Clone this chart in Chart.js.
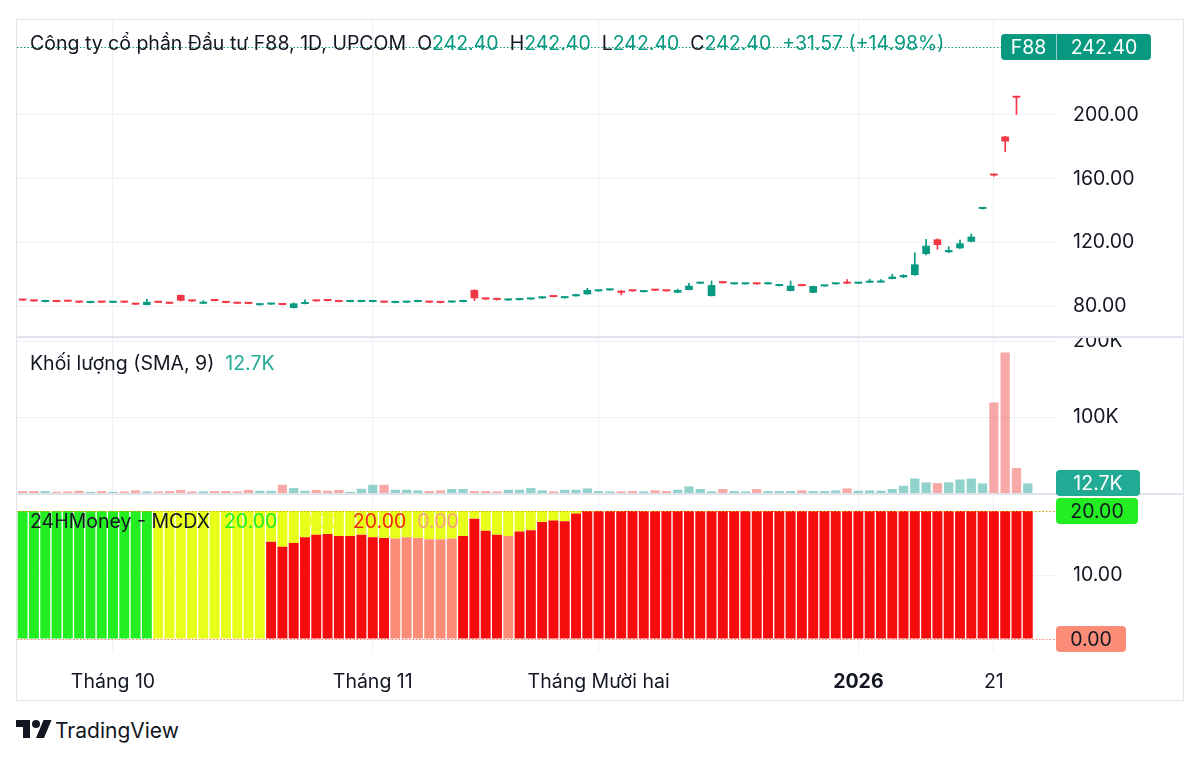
<!DOCTYPE html>
<html lang="vi">
<head>
<meta charset="utf-8">
<title>F88 - 1D - UPCOM</title>
<script src="https://cdn.jsdelivr.net/npm/chart.js@4.4.1/dist/chart.umd.min.js"></script>
<style>
html,body{margin:0;padding:0;background:#fff}
body{width:1200px;height:758px;position:relative;overflow:hidden;font-family:Inter,"Noto Sans",sans-serif;color:#131722}
#frame{position:absolute;left:16px;top:19px;width:1168px;height:682px;box-sizing:border-box;border:1px solid #e0e3eb}
canvas{position:absolute;left:17px}
.sep{position:absolute;left:17px;width:1166px;background:#e0e3eb}
.legend{position:absolute;left:30px;font-size:19.5px;line-height:24px;white-space:nowrap}
.legend span{margin-left:11px}
.legend span.tight{margin-left:0}
.badge{position:absolute;height:26px;line-height:26px;font-size:19.5px;border-radius:4px;box-sizing:border-box;white-space:nowrap;text-align:center}
#footer{position:absolute;left:16px;top:716px;display:flex;align-items:center}
#footer span{font-size:21px;margin-left:3px;color:#131722}
</style>
</head>
<body>
<div id="frame"></div>
<canvas id="cPrice" width="1166" height="316" style="top:20px"></canvas>
<div class="sep" style="top:336px;height:2px"></div>
<canvas id="cVol" width="1166" height="155" style="top:338px"></canvas>
<div class="sep" style="top:493px;height:2px"></div>
<canvas id="cMcdx" width="1166" height="204" style="top:495px"></canvas>

<div class="legend" id="lgPrice" style="top:31px"></div>
<div class="legend" id="lgVol" style="top:351px"></div>
<div class="legend" id="lgMcdx" style="top:509px"></div>

<div class="badge" id="bPrice" style="left:1001px;width:150px;background:#089981;color:#fff;display:flex">
  <span style="width:55px;border-right:1px solid rgba(255,255,255,.55)" id="bSym"></span><span style="flex:1" id="bLast"></span>
</div>
<div class="badge" id="bVol" style="left:1056px;width:84px;background:#22ab94;color:#fff"></div>
<div class="badge" id="bTop" style="left:1056px;width:82px;background:#22ee22;color:#131722"></div>
<div class="badge" id="bBot" style="left:1056px;width:70px;background:#fa8c78;color:#131722"></div>

<div id="footer">
  <svg width="36" height="28" viewBox="0 0 36 28"><path fill="#131722" d="M14 22H7V11H0V4h14v18zM28 22h-8l7.5-18h8L28 22z"/><circle fill="#131722" cx="20" cy="8" r="4"/></svg>
  <span>TradingView</span>
</div>

<script>
// ---------- DATA ----------
const symbol = 'F88';
const titleText = 'Công ty cổ phần Đầu tư F88, 1D, UPCOM';
const changeText = '+31.57 (+14.98%)';

const categories = [
 '2025-09-19','2025-09-22','2025-09-23','2025-09-24','2025-09-25','2025-09-26','2025-09-29','2025-09-30',
 '2025-10-01','2025-10-02','2025-10-03','2025-10-06','2025-10-07','2025-10-08','2025-10-09','2025-10-10',
 '2025-10-13','2025-10-14','2025-10-15','2025-10-16','2025-10-17','2025-10-20','2025-10-21','2025-10-22',
 '2025-10-23','2025-10-24','2025-10-27','2025-10-28','2025-10-29','2025-10-30','2025-10-31',
 '2025-11-03','2025-11-04','2025-11-05','2025-11-06','2025-11-07','2025-11-10','2025-11-11','2025-11-12',
 '2025-11-13','2025-11-14','2025-11-17','2025-11-18','2025-11-19','2025-11-20','2025-11-21','2025-11-24',
 '2025-11-25','2025-11-26','2025-11-27','2025-11-28',
 '2025-12-01','2025-12-02','2025-12-03','2025-12-04','2025-12-05','2025-12-08','2025-12-09','2025-12-10',
 '2025-12-11','2025-12-12','2025-12-15','2025-12-16','2025-12-17','2025-12-18','2025-12-19','2025-12-22',
 '2025-12-23','2025-12-24','2025-12-25','2025-12-26','2025-12-29','2025-12-30','2025-12-31',
 '2026-01-05','2026-01-06','2026-01-07','2026-01-08','2026-01-09','2026-01-12','2026-01-13','2026-01-14',
 '2026-01-15','2026-01-16','2026-01-19','2026-01-20','2026-01-21','2026-01-22','2026-01-23','2026-01-26'
];
const xTickDates = ['2025-10-01','2025-11-03','2025-12-01','2026-01-05','2026-01-21'];
const xTickTexts = ['Tháng 10','Tháng 11','Tháng Mười hai','2026','21'];
const xTickBold  = ['2026'];

const open = [
 84.0,83.5,82.6,83.0,83.2,82.7,82.0,82.6,82.1,82.6,
 81.3,80.7,82.6,81.9,87.0,83.5,81.5,84.0,82.4,81.9,
 82.3,80.6,81.0,81.1,78.8,81.3,83.5,84.0,83.0,82.6,
 82.6,82.6,82.6,82.0,82.2,82.6,82.6,82.4,82.3,82.6,
 90.1,84.6,84.3,83.6,83.8,84.2,84.9,86.1,85.0,86.2,
 87.4,89.3,89.9,89.7,89.7,88.8,90.1,89.7,88.4,90.1,
 94.1,86.3,95.3,93.7,93.7,94.1,93.7,92.6,89.5,93.0,
 88.4,92.4,93.7,94.5,94.1,94.7,94.8,97.0,98.1,99.5,
 112.7,121.9,113.8,116.3,120.4,141.0,162.6,186.5,211.2,242.4];
const high = [
 84.0,83.5,83.1,83.0,83.2,82.7,82.5,82.6,82.6,82.6,
 81.3,84.2,82.6,81.9,87.0,83.5,83.4,84.0,82.4,81.9,
 82.3,81.0,81.5,81.1,82.0,84.0,83.5,84.0,83.0,83.0,
 83.0,83.0,82.6,82.4,82.6,83.0,82.6,82.4,82.7,83.0,
 90.3,84.7,84.4,84.1,84.2,84.6,85.9,86.1,85.4,87.6,
 91.2,89.7,90.3,89.8,89.7,89.2,90.1,89.7,90.7,94.3,
 94.5,95.8,95.5,94.1,94.1,94.1,95.0,93.0,95.8,93.0,
 92.6,92.8,94.1,96.6,94.5,96.8,96.6,100.0,99.8,113.5,
 121.9,122.2,117.3,121.5,125.3,142.0,162.6,186.6,211.3,242.4];
const low = [
 83.5,83.0,82.6,82.6,82.8,82.2,82.0,82.2,82.1,82.2,
 80.9,80.7,82.1,81.5,83.2,83.0,81.5,83.2,82.0,81.5,
 81.4,80.6,81.0,80.7,78.8,81.3,83.0,83.2,82.6,82.6,
 82.6,82.6,82.2,82.0,82.2,82.6,82.2,82.0,82.3,82.6,
 83.4,84.1,83.8,83.5,83.8,84.2,84.9,85.7,85.0,86.2,
 87.4,89.3,89.9,87.0,89.3,88.8,89.7,89.3,88.4,90.1,
 94.1,86.3,94.4,93.7,93.7,93.7,93.7,92.6,89.5,92.6,
 88.4,92.4,93.7,94.1,94.1,94.7,94.8,97.0,97.8,99.3,
 112.1,115.7,113.6,116.1,120.3,140.9,161.6,177.0,200.4,242.4];
const close = [
 83.5,83.0,83.1,82.6,82.8,82.2,82.5,82.2,82.6,82.2,
 80.9,82.7,82.1,81.5,83.4,83.0,82.0,83.2,82.0,81.5,
 81.4,81.0,81.5,80.7,81.7,82.5,83.0,83.2,82.6,83.0,
 83.0,83.0,82.2,82.4,82.6,83.0,82.2,82.0,82.7,83.0,
 84.9,84.2,83.9,84.0,84.2,84.6,85.4,85.7,85.4,86.7,
 90.1,89.7,90.3,88.4,89.3,89.2,89.7,89.3,90.1,92.8,
 94.5,93.2,94.4,94.1,94.1,93.7,94.1,93.0,92.8,92.6,
 92.6,92.8,94.1,94.1,94.5,95.1,95.2,98.5,99.5,106.2,
 117.9,118.4,115.2,119.4,123.6,141.8,162.0,183.4,210.83,242.4];
const priceTicks = [80,120,160,200];

// volume, thousands of shares
const volumeK = [
 2.5,2.5,2.5,1.5,2,3,1.5,2.5,1.5,2,
 3.5,2,2,2.5,4,2,2,2.5,2.5,2,
 4,3,3,10.8,6.5,3,4,3,4,1.5,
 5.6,10.8,10.8,4.3,4.3,3.5,2.6,3.5,5.2,5.2,
 2.5,2.5,2,4.3,4.3,6.5,3.5,2,4.3,4.3,
 6,2.5,2,2,2.5,2,3.5,2.6,4.3,8.7,
 5.2,2.2,5.2,2.5,2,5.2,2.5,2.5,2.5,3.5,
 2.5,2.5,3.5,6,3,3.5,3,5.2,9.5,19,
 14,13,14,17.8,19,12.6,119,185,33,12.7];
const volumeTicks = [100,200];

// MCDX (24HMoney) stacked components
const mcdxBanker = [
 0,0,0,0,0,0,0,0,0,0,
 0,0,0,0,0,0,0,0,0,0,
 0,0,15.2,14.4,15.0,15.9,16.3,16.4,16.1,16.1,
 16.3,15.9,15.8,0,0,0,0,0,0,16.1,
 18.8,16.9,16.3,0,16.8,17.0,18.3,18.5,18.4,19.6,
 20,20,20,20,20,20,20,20,20,20,
 20,20,20,20,20,20,20,20,20,20,
 20,20,20,20,20,20,20,20,20,20,
 20,20,20,20,20,20,20,20,20,20];
const mcdxBankerWeak = [
 0,0,0,0,0,0,0,0,0,0,
 0,0,0,0,0,0,0,0,0,0,
 0,0,0,0,0,0,0,0,0,0,
 0,0,0,15.7,15.9,15.8,15.6,15.6,15.7,0,
 0,0,0,16.1,0,0,0,0,0,0,
 0,0,0,0,0,0,0,0,0,0,
 0,0,0,0,0,0,0,0,0,0,
 0,0,0,0,0,0,0,0,0,0,
 0,0,0,0,0,0,0,0,0,0];
const mcdxHotMoney = [
 0,0,0,0,0,0,0,0,0,0,
 0,0,20,20,20,20,20,20,20,20,
 20,20,4.8,5.6,5.0,4.1,3.7,3.6,3.9,3.9,
 3.7,4.1,4.2,4.3,4.1,4.2,4.4,4.4,4.3,3.9,
 1.2,3.1,3.7,3.9,3.2,3.0,1.7,1.5,1.6,0.4,
 0,0,0,0,0,0,0,0,0,0,
 0,0,0,0,0,0,0,0,0,0,
 0,0,0,0,0,0,0,0,0,0,
 0,0,0,0,0,0,0,0,0,0];
const mcdxRetail = [
 20,20,20,20,20,20,20,20,20,20,
 20,20,0,0,0,0,0,0,0,0,
 0,0,0,0,0,0,0,0,0,0,
 0,0,0,0,0,0,0,0,0,0,
 0,0,0,0,0,0,0,0,0,0,
 0,0,0,0,0,0,0,0,0,0,
 0,0,0,0,0,0,0,0,0,0,
 0,0,0,0,0,0,0,0,0,0,
 0,0,0,0,0,0,0,0,0,0];
const mcdxTicks = [0,10,20];
const mcdxLegendValues = ['20.00','20.00','20.00','0.00'];
const mcdxTop = 20, mcdxBottom = 0;

// ---------- STYLE ----------
const UP = '#089981', DOWN = '#f23645';
const VOL_UP = 'rgba(38,166,154,0.5)', VOL_DOWN = 'rgba(239,83,80,0.5)';
const C_RETAIL = '#22ee22', C_HOT = '#e8ff1a', C_BANK = '#f50c0c', C_WEAK = '#fa8c78';
const GRID = '#eef1f6', TEXT = '#131722', FONT = 'Inter', FS = 19.5;
const AXIS_W = 127;

Chart.defaults.font.family = FONT;
Chart.defaults.font.size = FS;
Chart.defaults.color = TEXT;

const labels = categories.concat(['', '']);   // right margin slots
const tickIdx = xTickDates.map(d => categories.indexOf(d));
const tickTextAt = {};
tickIdx.forEach((i, k) => { tickTextAt[i] = xTickTexts[k]; });
const isUp = close.map((c, i) => c >= open[i]);

function xScale(showLabels) {
  return {
    type: 'category',
    offset: true,
    stacked: true,
    grid: { color: GRID, offset: false, drawTicks: false },
    border: { display: false },
    afterBuildTicks: s => { s.ticks = tickIdx.map(i => ({ value: i })); },
    afterFit: s => { s.height = showLabels ? 47 : 0; },
    ticks: {
      display: showLabels, autoSkip: false, maxRotation: 0, padding: 18, color: TEXT,
      callback: v => tickTextAt[v] ?? '',
      font: c => ({ family: FONT, size: FS,
        weight: (c.tick && xTickBold.includes(tickTextAt[c.tick.value])) ? '700' : '400' })
    }
  };
}
function yScale(min, max, ticks, fmt, stacked) {
  return {
    position: 'right', min, max, stacked: !!stacked,
    grid: { color: GRID, drawTicks: false },
    border: { display: false },
    afterBuildTicks: s => { s.ticks = ticks.map(v => ({ value: v })); },
    afterFit: s => { s.width = AXIS_W; s.paddingTop = 0; s.paddingBottom = 0; },
    ticks: { padding: 17, color: TEXT, callback: fmt }
  };
}
const base = {
  responsive: false, animation: false, events: [],
  layout: { padding: 0 },
  plugins: { legend: { display: false }, tooltip: { enabled: false } }
};
function dotted(id, items) {
  return { id, afterDatasetsDraw(chart) {
    const { ctx, chartArea: a, scales: { y } } = chart;
    items.forEach(it => {
      const py = Math.round(y.getPixelForValue(it.value)) + 0.5;
      ctx.save(); ctx.strokeStyle = it.color; ctx.lineWidth = 1.2; ctx.setLineDash([1.5, 2]);
      ctx.beginPath(); ctx.moveTo(a.left, py); ctx.lineTo(a.right, py); ctx.stroke(); ctx.restore();
    });
  }};
}

// ---------- PRICE ----------
const last = close.length - 1;
const priceChart = new Chart(document.getElementById('cPrice'), {
  type: 'bar',
  data: { labels, datasets: [
    { data: low.map((l, i) => [l, high[i]]), backgroundColor: isUp.map(u => u ? UP : DOWN),
      barThickness: 1, grouped: false, order: 2 },
    { data: open.map((o, i) => [Math.min(o, close[i]), Math.max(o, close[i])]),
      backgroundColor: isUp.map(u => u ? UP : DOWN), minBarLength: 2,
      barPercentage: 0.68, categoryPercentage: 1, grouped: false, order: 1 }
  ]},
  options: { ...base,
    scales: { x: { ...xScale(false), stacked: false },
      y: yScale(61.23, 259.65, priceTicks, v => v.toFixed(2)) } },
  plugins: [dotted('lastPrice', [{ value: close[last], color: UP }])]
});

// ---------- VOLUME ----------
const volChart = new Chart(document.getElementById('cVol'), {
  type: 'bar',
  data: { labels, datasets: [
    { data: volumeK, backgroundColor: isUp.map(u => u ? VOL_UP : VOL_DOWN),
      barPercentage: 0.82, categoryPercentage: 1 }
  ]},
  options: { ...base,
    scales: { x: xScale(false), y: yScale(0, 203.95, volumeTicks, v => v + 'K') } }
});

// ---------- MCDX ----------
const mcdxChart = new Chart(document.getElementById('cMcdx'), {
  type: 'bar',
  data: { labels, datasets: [
    { data: mcdxBanker, backgroundColor: C_BANK },
    { data: mcdxBankerWeak, backgroundColor: C_WEAK },
    { data: mcdxHotMoney, backgroundColor: C_HOT },
    { data: mcdxRetail, backgroundColor: C_RETAIL }
  ].map(d => ({ ...d, barPercentage: 0.88, categoryPercentage: 1 })) },
  options: { ...base,
    scales: { x: xScale(true),
      y: yScale(-2.03, 22.5, mcdxTicks, v => v === 10 ? v.toFixed(2) : '', true) } },
  plugins: [dotted('levels', [{ value: mcdxTop, color: '#d9a300' }, { value: mcdxBottom, color: C_WEAK }])]
});

// ---------- TEXT OVERLAYS ----------
const f2 = v => v.toFixed(2);
document.getElementById('lgPrice').innerHTML =
  `<span class="tight">${titleText}</span>` +
  `<span>O<b style="font-weight:400;color:${UP}">${f2(open[last])}</b></span>` +
  `<span>H<b style="font-weight:400;color:${UP}">${f2(high[last])}</b></span>` +
  `<span>L<b style="font-weight:400;color:${UP}">${f2(low[last])}</b></span>` +
  `<span>C<b style="font-weight:400;color:${UP}">${f2(close[last])}</b></span>` +
  `<span style="color:${UP}">${changeText}</span>`;
document.getElementById('lgVol').innerHTML =
  `<span class="tight">Khối lượng (SMA, 9)</span><span style="color:#22ab94">${volumeK[last]}K</span>`;
const mcdxColors = [C_RETAIL, C_HOT, '#ee2a10', '#f5a07e'];
document.getElementById('lgMcdx').innerHTML =
  `<span class="tight">24HMoney - MCDX</span>` +
  mcdxLegendValues.map((v, i) => `<span style="color:${mcdxColors[i]}${i === 0 ? ';margin-left:14px' : ''}">${v}</span>`).join('');

function place(id, chart, value, canvasTop) {
  const el = document.getElementById(id);
  el.style.top = (canvasTop + chart.scales.y.getPixelForValue(value) - 13) + 'px';
}
document.getElementById('bSym').textContent = symbol;
document.getElementById('bLast').textContent = f2(close[last]);
place('bPrice', priceChart, close[last], 20);
document.getElementById('bVol').textContent = volumeK[last] + 'K';
place('bVol', volChart, volumeK[last], 338);
document.getElementById('bTop').textContent = mcdxTop.toFixed(2);
place('bTop', mcdxChart, mcdxTop, 495);
document.getElementById('bBot').textContent = mcdxBottom.toFixed(2);
place('bBot', mcdxChart, mcdxBottom, 495);
</script>
</body>
</html>
